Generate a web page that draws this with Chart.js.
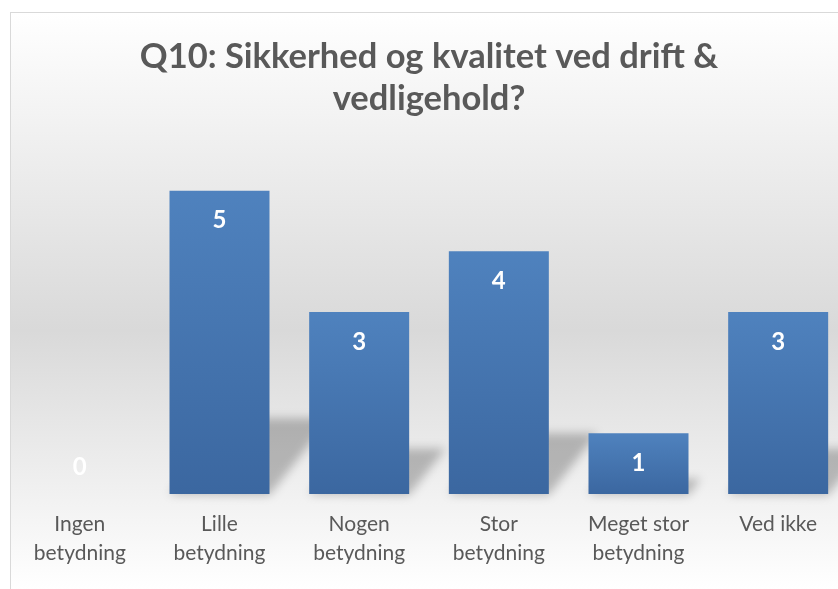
<!DOCTYPE html>
<html>
<head>
<meta charset="utf-8">
<script src="https://cdn.jsdelivr.net/npm/chart.js@4.4.1/dist/chart.umd.min.js"></script>
<style>
  html, body { margin: 0; padding: 0; background: #ffffff; overflow: hidden; width: 838px; height: 589px; }
  #frame {
    position: absolute; left: 10px; top: 12px; width: 900px; height: 577px;
    border-top: 1px solid #d9d9d9; border-left: 1px solid #d9d9d9;
    background: linear-gradient(to bottom, #ffffff 0%, #d9d9d9 55%, #ffffff 100%);
  }
  #chart { position: absolute; left: -1px; top: 0; }
</style>
</head>
<body>
<div id="frame"><canvas id="chart" width="838" height="577"></canvas></div>
<script>
const categories = [
    ["Ingen", "betydning"],
    ["Lille", "betydning"],
    ["Nogen", "betydning"],
    ["Stor", "betydning"],
    ["Meget stor", "betydning"],
    "Ved ikke"
];
const counts = [0, 5, 3, 4, 1, 3];
const titleLines = ["Q10: Sikkerhed og kvalitet ved drift &", "vedligehold?"];

// blurred floor shadow behind each bar
const barShadow = {
    id: 'barShadow',
    beforeDatasetsDraw(chart) {
        const ctx = chart.ctx;
        const meta = chart.getDatasetMeta(0);
        ctx.save();
        ctx.filter = 'blur(5px)';
        ctx.fillStyle = 'rgba(0,0,0,0.24)';
        meta.data.forEach(function(bar) {
            const h = bar.base - bar.y;
            if (h <= 0) return;
            const x0 = bar.x - bar.width / 2;
            const x1 = bar.x + bar.width / 2;
            const dy = h * 0.25;
            const dx = h * 0.2;
            ctx.beginPath();
            ctx.moveTo(x0, bar.base);
            ctx.lineTo(x1, bar.base + 1);
            ctx.lineTo(x1 + dx, bar.base - dy);
            ctx.lineTo(x0 + dx, bar.base - dy);
            ctx.closePath();
            ctx.fill();
        });
        ctx.restore();
    }
};

// white value labels inside the top of the bars
const valueLabels = {
    id: 'valueLabels',
    afterDatasetsDraw(chart) {
        const ctx = chart.ctx;
        const meta = chart.getDatasetMeta(0);
        ctx.save();
        ctx.fillStyle = '#ffffff';
        ctx.font = 'bold 24px Lato';
        ctx.textAlign = 'center';
        ctx.textBaseline = 'middle';
        meta.data.forEach(function(bar, i) {
            const y = Math.min(bar.y + 30, bar.base - 27);
            ctx.fillText(String(counts[i]), bar.x, y);
        });
        ctx.restore();
    }
};

function barGradient(context) {
    const chart = context.chart;
    if (!chart.chartArea || !chart.scales.y) return '#4a79b4';
    const yScale = chart.scales.y;
    const top = yScale.getPixelForValue(context.raw);
    const base = yScale.getPixelForValue(0);
    if (!(base - top > 1)) return '#4f81bd';
    const g = chart.ctx.createLinearGradient(0, top, 0, base);
    g.addColorStop(0, '#4f82be');
    g.addColorStop(1, '#3b67a0');
    return g;
}

new Chart(document.getElementById('chart'), {
    type: 'bar',
    data: {
        labels: categories,
        datasets: [{
            label: 'Q10',
            data: counts,
            backgroundColor: barGradient,
            borderWidth: 0,
            barPercentage: 0.716,
            categoryPercentage: 1
        }]
    },
    options: {
        responsive: false,
        animation: false,
        layout: {
            padding: { left: 0, right: 0, top: 0, bottom: 6 }
        },
        plugins: {
            legend: { display: false },
            tooltip: { enabled: false },
            title: {
                display: true,
                text: titleLines,
                color: '#595959',
                font: { family: 'Lato', size: 34.5, weight: 'bold', lineHeight: 1.24 },
                padding: { top: 22, bottom: 70 }
            }
        },
        scales: {
            x: {
                grid: { display: false, drawTicks: false },
                border: { display: false },
                ticks: {
                    color: '#595959',
                    font: { family: 'Lato', size: 21, lineHeight: 1.38 },
                    padding: 16,
                    autoSkip: false,
                    maxRotation: 0
                }
            },
            y: {
                display: false,
                min: 0,
                max: 5
            }
        }
    },
    plugins: [barShadow, valueLabels]
});
</script>
</body>
</html>
